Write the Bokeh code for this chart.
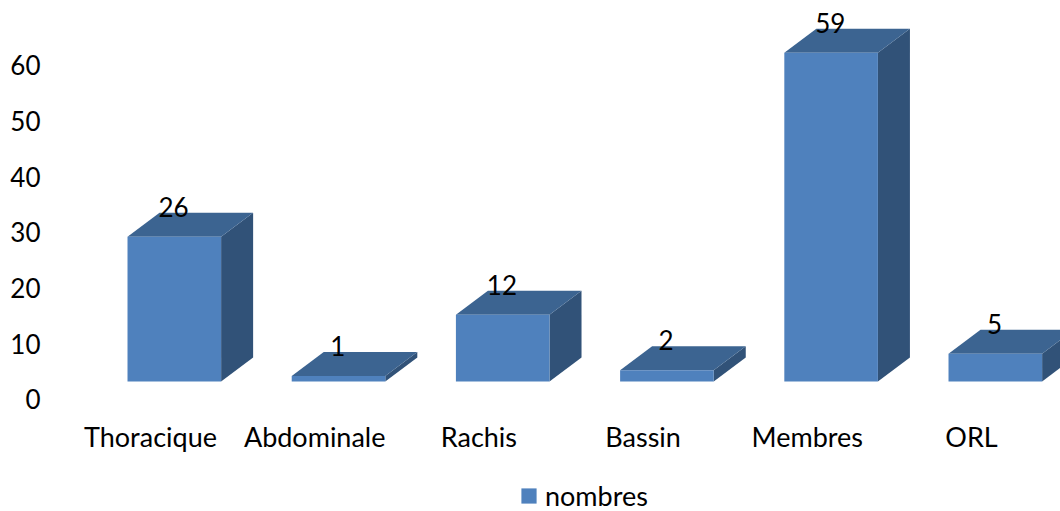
from bokeh.embed import file_html
from bokeh.models import FixedTicker, Legend, LegendItem, Range1d
from bokeh.plotting import figure
from bokeh.resources import INLINE
from bokeh.core.properties import value

categories = ["Thoracique", "Abdominale", "Rachis", "Bassin", "Membres", "ORL"]
nombres = [26, 1, 12, 2, 59, 5]
y_ticks = [0, 10, 20, 30, 40, 50, 60]

FONT = "Lato"
DIGIT_SIZE = "26px"
LABEL_SIZE = "27px"
FRONT = "#4F81BD"
TOP = "#3C6491"
SIDE = "#315278"

# Oblique projection of the 3D columns, expressed in axis units
BAR_WIDTH = 0.57
SHIFT_X = 0.145      # floor front edge relative to the category tick
FLOOR_Y = 3.23       # floor front edge relative to the value axis zero
DEPTH_X = 0.195
DEPTH_Y = 4.31
LABEL_LIFT = 1.1

# The frame runs to the page bottom so the legend can sit inside it
p = figure(
    width=1060, height=511, output_backend="svg", toolbar_location=None,
    x_range=Range1d(-0.609, 5.542), y_range=Range1d(-20.11, 71.63),
    min_border_left=50, min_border_right=0, min_border_top=0, min_border_bottom=0,
    outline_line_color=None, background_fill_color="white",
)
p.grid.visible = False

x_index = list(range(len(categories)))
left = [i + SHIFT_X - BAR_WIDTH / 2 for i in x_index]
right = [i + SHIFT_X + BAR_WIDTH / 2 for i in x_index]
top = [v + FLOOR_Y for v in nombres]
bottom = [FLOOR_Y] * len(nombres)

p.patches(
    [[r, r + DEPTH_X, r + DEPTH_X, r] for r in right],
    [[b, b + DEPTH_Y, t + DEPTH_Y, t] for b, t in zip(bottom, top)],
    fill_color=SIDE, line_color=None,
)
p.patches(
    [[l, r, r + DEPTH_X, l + DEPTH_X] for l, r in zip(left, right)],
    [[t, t, t + DEPTH_Y, t + DEPTH_Y] for t in top],
    fill_color=TOP, line_color=None,
)
front = p.quad(left=left, right=right, top=top, bottom=bottom,
               fill_color=FRONT, line_color=None)

p.text(
    x=[i + SHIFT_X - 0.005 for i in x_index],
    y=[t + DEPTH_Y + LABEL_LIFT for t in top],
    text=[str(v) for v in nombres],
    text_font=value(FONT), text_font_size=value(DIGIT_SIZE), text_color="#000000",
    text_align="center", text_baseline="middle",
)

for axis in (p.xaxis[0], p.yaxis[0]):
    axis.axis_line_color = None
    axis.major_tick_line_color = None
    axis.minor_tick_line_color = None
    axis.major_label_text_font = FONT
    axis.major_label_text_color = "#000000"

p.yaxis[0].ticker = FixedTicker(ticks=y_ticks)
p.yaxis[0].major_label_text_font_size = DIGIT_SIZE
p.yaxis[0].major_label_standoff = 4
p.xaxis[0].ticker = FixedTicker(ticks=x_index)
p.xaxis[0].major_label_overrides = dict(zip(x_index, categories))
p.xaxis[0].major_label_text_font_size = LABEL_SIZE
p.xaxis[0].major_label_standoff = 15
p.xaxis[0].fixed_location = 0

legend = Legend(
    items=[LegendItem(label="nombres", renderers=[front])],
    location=(469, -1), orientation="horizontal",
    border_line_color=None, background_fill_alpha=0,
    label_text_font=FONT, label_text_font_size=LABEL_SIZE, label_text_color="#000000",
    glyph_width=19, glyph_height=19, margin=0, padding=0, label_standoff=7,
    spacing=0,
)
p.add_layout(legend, "center")

open("out.html", "w").write(file_html(p, INLINE))
